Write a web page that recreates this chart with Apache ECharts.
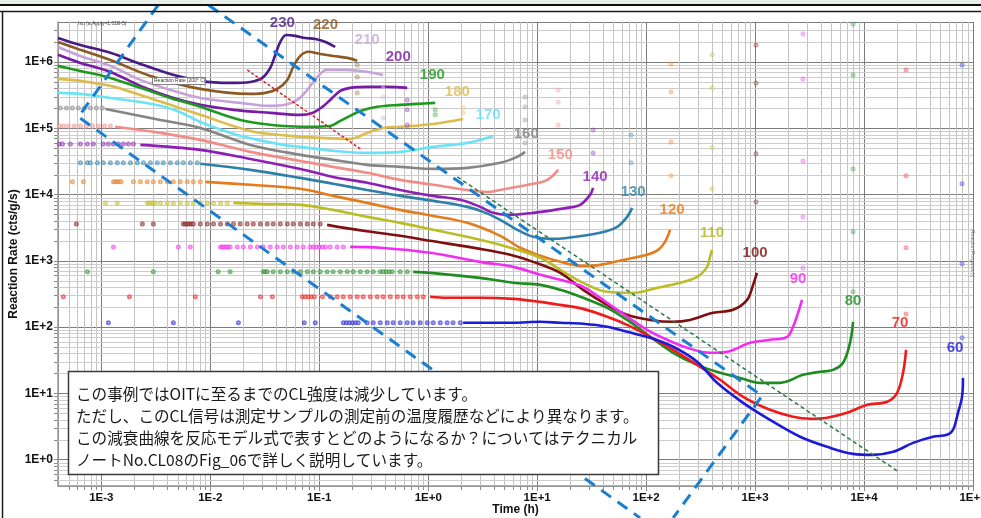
<!DOCTYPE html>
<html>
<head>
<meta charset="utf-8">
<script src="https://cdn.jsdelivr.net/npm/echarts@6/dist/echarts.min.js"></script>
<style>
  html, body { margin: 0; padding: 0; background: #fff; }
  #chart { width: 981px; height: 518px; }
</style>
</head>
<body>
<div id="chart"></div>
<script>
// Isothermal chemiluminescence decay curves, reaction rate (cts/g/s) vs time (h)
const temps = [230, 220, 210, 200, 190, 180, 170, 160, 150, 140, 130, 120, 110, 100, 90, 80, 70, 60];
const colors = ['#4a1a86', '#8b5a22', '#c6a2d8', '#7a1aa8', '#1d9a1d', '#dcbc4c', '#6ae4f4', '#858585', '#f28c86',
                '#8e1fb4', '#2f7fa8', '#e37c1c', '#bcbc26', '#7e1010', '#f22cf0', '#1e8c1e', '#f01a1a', '#1c1cd8'];
const labelColors = ['#4a1a86', '#8b5a22', '#c9a6dc', '#7a1aa8', '#1d9a1d', '#dcbc4c', '#66e0f2', '#808080', '#f28c86',
                     '#8e1fb4', '#2f7fa8', '#e37c1c', '#b5b522', '#7e1010', '#f22cf0', '#1e8c1e', '#f01a1a', '#1c1cd8'];

// dense measured curves [time h, rate]
const line230 = [[4.0e-4,2.30e6],[6.42e-4,1.80e6],[1.21e-3,1.37e6],[2.28e-3,9.33e5],[4.30e-3,6.59e5],[8.09e-3,5.17e5],[1.52e-2,4.82e5],[2.33e-2,4.99e5],[3.00e-2,5.74e5],[3.55e-2,8.12e5],[3.95e-2,1.28e6],[4.39e-2,2.00e6],[4.98e-2,2.55e6],[6.03e-2,2.47e6],[7.44e-2,2.30e6],[9.19e-2,2.22e6],[0.114,2.00e6],[0.140,1.68e6]];
const line220 = [[4.0e-4,2.00e6],[6.42e-4,1.52e6],[1.21e-3,1.07e6],[2.82e-3,6.15e5],[8.09e-3,3.92e5],[2.33e-2,3.29e5],[3.20e-2,3.41e5],[4.12e-2,3.92e5],[5.09e-2,5.35e5],[5.77e-2,8.41e5],[6.70e-2,1.23e6],[7.93e-2,1.42e6],[0.102,1.32e6],[0.134,1.23e6],[0.181,1.15e6],[0.223,1.04e6]];
const line210 = [[4.0e-4,1.68e6],[6.42e-4,1.23e6],[1.21e-3,8.71e5],[2.28e-3,5.35e5],[4.30e-3,3.78e5],[8.09e-3,2.86e5],[1.88e-2,2.41e5],[3.55e-2,2.17e5],[4.88e-2,2.25e5],[6.28e-2,2.67e5],[7.76e-2,3.78e5],[9.59e-2,5.94e5],[0.118,7.57e5],[0.166,7.57e5],[0.238,7.31e5],[0.313,6.82e5],[0.386,6.36e5]];
const line200 = [[4.0e-4,1.28e6],[6.42e-4,9.66e5],[1.21e-3,7.06e5],[2.28e-3,4.35e5],[4.30e-3,2.96e5],[8.09e-3,2.25e5],[1.63e-2,1.89e5],[3.55e-2,1.70e5],[6.70e-2,1.59e5],[8.63e-2,1.70e5],[0.107,2.10e5],[0.126,2.67e5],[0.156,3.65e5],[0.192,4.06e5],[0.275,4.20e5],[0.421,4.20e5],[0.642,4.06e5]];
const line190 = [[4.0e-4,8.71e5],[6.42e-4,7.31e5],[1.21e-3,5.74e5],[2.28e-3,4.06e5],[4.30e-3,2.86e5],[8.09e-3,2.10e5],[1.52e-2,1.48e5],[2.33e-2,1.24e5],[4.68e-2,1.08e5],[8.26e-2,1.05e5],[0.126,1.08e5],[0.156,1.29e5],[0.192,1.53e5],[0.238,1.82e5],[0.340,2.10e5],[0.553,2.25e5],[0.793,2.33e5],[1.16,2.41e5]];
const line180 = [[4.0e-4,5.54e5],[6.42e-4,5.17e5],[1.21e-3,4.35e5],[2.28e-3,3.18e5],[4.30e-3,2.25e5],[8.09e-3,1.59e5],[2.33e-2,9.10e4],[5.42e-2,7.65e4],[0.102,7.14e4],[0.192,6.90e4],[0.275,8.49e4],[0.386,1.01e5],[0.553,1.05e5],[1.11,1.16e5],[2.09,1.38e5]];
const line170 = [[4.0e-4,3.41e5],[6.42e-4,3.29e5],[1.21e-3,2.86e5],[2.82e-3,2.33e5],[4.98e-3,1.82e5],[8.09e-3,1.24e5],[1.77e-2,7.92e4],[4.68e-2,5.60e4],[6.70e-2,5.22e4],[0.134,4.55e4],[0.275,4.24e4],[0.553,4.39e4],[1.11,5.22e4],[2.28,6.00e4],[3.95,7.65e4]];
const line160 = [[1.09e-3,1.95e5],[1.85e-3,1.64e5],[3.48e-3,1.33e5],[8.09e-3,1.01e5],[2.33e-2,5.60e4],[6.70e-2,3.96e4],[0.134,3.33e4],[0.275,2.80e4],[0.553,2.61e4],[1.11,2.43e4],[2.28,2.52e4],[4.58,3.00e4],[6.56,3.69e4],[7.76,4.39e4]];
const line150 = [[1.34e-3,1.05e5],[3.48e-3,8.49e4],[8.09e-3,6.66e4],[2.33e-2,4.39e4],[6.70e-2,3.21e4],[0.134,2.61e4],[0.275,2.12e4],[0.553,1.66e4],[1.11,1.40e4],[2.28,1.17e4],[3.48,1.09e4],[4.58,1.17e4],[9.19,1.45e4],[12.4,1.66e4],[15.6,2.35e4]];
const line140 = [[2.28e-3,5.60e4],[8.09e-3,4.71e4],[2.33e-2,3.44e4],[6.70e-2,2.43e4],[0.134,1.84e4],[0.275,1.50e4],[0.553,1.17e4],[1.11,9.53e3],[1.97,8.30e3],[3.00,6.50e3],[3.95,5.28e3],[5.31,4.92e3],[9.19,5.28e3],[18.8,6.28e3],[24.8,6.97e3],[30.6,9.86e3],[32.6,1.26e4]];
const line130 = [[8.09e-3,2.90e4],[2.33e-2,2.35e4],[6.70e-2,1.78e4],[0.134,1.45e4],[0.275,1.17e4],[0.553,9.53e3],[1.11,8.01e3],[2.28,6.50e3],[3.20,5.47e3],[4.58,4.14e3],[6.56,2.93e3],[9.19,2.30e3],[13.2,2.14e3],[18.8,2.21e3],[37.8,2.64e3],[54.2,3.25e3],[66.9,4.59e3],[74.4,6.28e3]];
const line120 = [[9.00e-3,1.55e4],[2.33e-2,1.40e4],[6.70e-2,1.22e4],[0.134,9.53e3],[0.275,7.47e3],[0.553,5.86e3],[1.11,4.75e3],[2.28,3.73e3],[4.58,2.38e3],[6.98,1.57e3],[10.7,1.19e3],[16.3,9.63e2],[24.8,8.38e2],[37.8,8.67e2],[61.5,1.03e3],[102,1.23e3],[129,1.46e3],[149,1.93e3],[166,2.93e3]];
const line110 = [[1.63e-2,7.47e3],[2.88e-2,7.21e3],[6.70e-2,6.97e3],[0.134,5.86e3],[0.275,4.59e3],[0.553,3.73e3],[1.11,2.93e3],[2.28,2.30e3],[4.58,1.74e3],[10.7,1.11e3],[16.3,7.29e2],[26.4,4.65e2],[43.9,3.40e2],[76.0,3.28e2],[126,3.90e2],[205,4.65e2],[294,5.72e2],[363,8.09e2],[386,1.15e3],[403,1.46e3]];
const line100 = [[0.118,3.48e3],[0.253,2.83e3],[0.553,2.38e3],[1.04,2.00e3],[3.00,1.51e3],[5.65,1.23e3],[9.19,9.63e2],[16.3,6.57e2],[26.4,3.64e2],[43.9,2.16e2],[66.9,1.53e2],[109,1.28e2],[177,1.20e2],[253,1.28e2],[412,1.64e2],[628,1.82e2],[845,2.57e2],[959,4.33e2],[1040,6.57e2]];
const line90 = [[0.192,1.62e3],[0.363,1.57e3],[1.04,1.32e3],[3.00,9.63e2],[6.03,8.09e2],[10.7,6.13e2],[16.3,5.15e2],[26.4,4.04e2],[43.9,2.32e2],[66.9,1.43e2],[102,90.8],[156,64.2],[238,48.7],[386,40.9],[553,42.3],[900,57.9],[1370,64.2],[1970,71.3],[2230,101],[2480,164],[2700,257]];
const line80 = [[0.728,6.80e2],[1.04,6.57e2],[3.00,5.52e2],[6.03,4.65e2],[10.7,4.33e2],[16.3,3.64e2],[26.4,2.76e2],[43.9,1.95e2],[66.9,1.28e2],[109,71.3],[177,40.9],[294,26.9],[477,20.4],[728,17.1],[1110,14.4],[1690,14.4],[2750,19.0],[3950,21.1],[5200,22.6],[6420,28.9],[7440,57.9],[7930,120]];
const line70 = [[1.04,2.86e2],[1.49,2.76e2],[3.00,2.76e2],[6.03,2.66e2],[10.7,2.40e2],[16.3,2.16e2],[26.4,1.88e2],[43.9,1.43e2],[66.9,1.08e2],[109,71.3],[177,45.3],[294,26.9],[477,16.0],[776,8.85],[1370,5.64],[2230,4.43],[3200,4.13],[4580,4.28],[6980,5.08],[10700,6.71],[16300,7.45],[20100,10.2],[22800,20.4],[24300,45.3]];
const line60 = [[2.09,116],[6.03,116],[10.7,120],[16.3,116],[26.4,112],[43.9,101],[66.9,84.7],[109,68.8],[177,50.4],[294,29.9],[448,14.4],[776,7.19],[1370,3.98],[2590,2.21],[4580,1.56],[7930,1.22],[12100,1.18],[18500,1.31],[28200,1.79],[43000,2.21],[57700,2.37],[65600,2.82],[72800,5.08],[79300,8.85],[80900,17.1]];

// sparse early readings: a constant rate sampled at these times (h)
const early160 = { rate: 2.02e5, t: [4.21e-4,4.78e-4,5.42e-4,6.15e-4,6.98e-4,7.93e-4,9.0e-4,1.02e-3] };
const early150 = { rate: 1.08e5, t: [4.1e-4,4.48e-4,4.98e-4,5.65e-4,6.42e-4,7.28e-4,8.27e-4,9.38e-4,1.07e-3,1.21e-3] };
const early140 = { rate: 5.80e4, t: [4.1e-4,4.39e-4,5.20e-4,6.42e-4,7.44e-4,8.45e-4,1.04e-3,1.16e-3,1.29e-3,1.43e-3,1.59e-3,1.77e-3,1.97e-3] };
const early130 = { rate: 3.00e4, t: [6.42e-4,7.44e-4,7.93e-4,9.19e-4,1.04e-3,1.21e-3,1.40e-3,1.59e-3,1.85e-3,2.14e-3,2.43e-3,2.82e-3,3.26e-3,3.70e-3,4.30e-3,4.98e-3,5.65e-3,6.56e-3,7.60e-3] };
const early120 = { rate: 1.55e4, t: [5.42e-4,6.84e-4,1.29e-3,1.34e-3,1.40e-3,1.46e-3,1.52e-3,1.97e-3,2.28e-3,2.64e-3,3.00e-3,3.48e-3,4.03e-3,4.58e-3,5.30e-3,6.15e-3,6.98e-3,8.09e-3] };
const early110 = { rate: 7.47e3, t: [1.09e-3,1.40e-3,2.64e-3,2.76e-3,2.88e-3,3.00e-3,3.13e-3,3.48e-3,4.03e-3,4.58e-3,5.30e-3,6.15e-3,6.98e-3,8.09e-3,9.38e-3,1.07e-2,1.24e-2,1.43e-2] };
const early100 = { rate: 3.60e3, t: [5.90e-4,2.38e-3,3.00e-3,5.65e-3,5.90e-3,6.15e-3,6.42e-3,6.70e-3,6.98e-3,8.09e-3,9.38e-3,1.07e-2,1.24e-2,1.43e-2,1.63e-2,1.88e-2,2.18e-2,2.48e-2,2.88e-2,3.33e-2,3.78e-2,4.39e-2,5.09e-2,5.77e-2,6.70e-2,7.76e-2,8.81e-2,0.102] };
const early90 = { rate: 1.62e3, t: [1.29e-3,5.09e-3,6.56e-3,1.24e-2,1.29e-2,1.34e-2,1.40e-2,1.46e-2,1.52e-2,1.77e-2,2.01e-2,2.33e-2,2.70e-2,3.06e-2,3.55e-2,4.12e-2,4.68e-2,5.42e-2,6.28e-2,7.13e-2,8.26e-2,8.81e-2,9.38e-2,0.100,0.107,0.114,0.126,0.146,0.166] };
const early80 = { rate: 6.80e2, t: [7.44e-4,3.00e-3,1.18e-2,1.52e-2,3.06e-2,3.20e-2,3.33e-2,3.78e-2,4.39e-2,5.09e-2,5.77e-2,6.70e-2,7.76e-2,8.81e-2,0.102,0.118,0.134,0.156,0.181,0.205,0.238,0.275,0.313,0.363,0.386,0.412,0.439,0.467,0.553,0.642] };
const early70 = { rate: 2.86e2, t: [4.48e-4,1.81e-3,7.28e-3,2.88e-2,3.71e-2,6.98e-2,7.44e-2,7.93e-2,8.45e-2,9.0e-2,0.107,0.126,0.146,0.166,0.192,0.223,0.253,0.294,0.340,0.386,0.448,0.520,0.590,0.684,0.793,0.900] };
const early60 = { rate: 1.16e2, t: [1.16e-3,4.58e-3,1.81e-2,7.28e-2,9.19e-2,0.166,0.177,0.188,0.201,0.214,0.228,0.275,0.313,0.363,0.421,0.477,0.553,0.642,0.728,0.845,0.979,1.11,1.29,1.49,1.69,1.97] };

// off-scale readings left at the end time of each run: time (h) and rates
const end220 = { t: 0.223, rates: [9.01e5, 5.94e5, 3.41e5] };
const end210 = { t: 0.386, rates: [4.20e5, 2.96e5, 1.43e5] };
const end200 = { t: 0.642, rates: [2.67e5, 1.89e5, 1.12e5] };
const end190 = { t: 1.16, rates: [1.89e5, 1.59e5] };
const end180 = { t: 2.09, rates: [2.02e5, 1.70e5] };
const end160 = { t: 7.76, rates: [2.96e5, 2.10e5, 1.33e5, 6.00e4] };
const end150 = { t: 15.6, rates: [3.78e5, 2.49e5, 1.12e5, 4.39e4] };
const end140 = { t: 32.6, rates: [9.43e4, 4.24e4] };
const end130 = { t: 72.8, rates: [7.92e4, 3.00e4] };
const end120 = { t: 169, rates: [9.33e5, 3.53e5, 6.21e4, 1.91e4] };
const end110 = { t: 403, rates: [1.28e6, 4.06e5, 5.05e4, 1.22e4] };
const end100 = { t: 1020, rates: [1.80e6, 4.82e5, 4.10e4, 7.73e3] };
const end90 = { t: 2750, rates: [2.64e6, 5.54e5, 3.21e4, 4.59e3, 781] };
const end80 = { t: 7930, rates: [3.74e6, 6.36e5, 2.43e4, 2.73e3, 340] };
const end70 = { t: 24300, rates: [7.57e5, 1.91e4, 1.57e3, 158] };
const end60 = { t: 79300, rates: [9.01e5, 1.45e4, 898, 68.8] };

// temperature tag anchors [time h, rate]
const tagPos = [[4.58e-2,3.87e6],[0.114,3.61e6],[0.275,2.15e6],[0.531,1.19e6],[1.09,6.36e5],[1.85,3.53e5],[3.55,1.59e5],[7.93,8.20e4],[16.3,3.96e4],[34.0,1.84e4],[76.0,1.09e4],[173,5.86e3],[403,2.64e3],[1000,1.32e3],[2480,5.33e2],[7930,2.48e2],[21400,116],[68400,48.7]];

// guide lines
const blueFrameA = [[3.33e-3,7.24e6],[6.15e-4,1.48e5],[88.1,0.132]];
const blueFrameB = [[9.59e-3,7.24e6],[1160,9.17],[177,0.132]];
const greenGuide = [[1.85,1.84e4],[2.01e4,0.678]];
const redGuide = [[2.18e-2,7.57e5],[0.238,4.87e4]];

const noteLines = [
  'この事例ではOITに至るまでのCL強度は減少しています。',
  'ただし、このCL信号は測定サンプルの測定前の温度履歴などにより異なります。',
  'この減衰曲線を反応モデル式で表すとどのようになるか？についてはテクニカル',
  'ノートNo.CL08のFig_06で詳しく説明しています。'
];

const X_MIN = 4e-4, X_MAX = 1e5, Y_MIN = 0.4, Y_MAX = 4e6;

const curves = {230: line230, 220: line220, 210: line210, 200: line200, 190: line190, 180: line180, 170: line170,
  160: line160, 150: line150, 140: line140, 130: line130, 120: line120, 110: line110, 100: line100, 90: line90,
  80: line80, 70: line70, 60: line60};
const early = {160: early160, 150: early150, 140: early140, 130: early130, 120: early120, 110: early110,
  100: early100, 90: early90, 80: early80, 70: early70, 60: early60};
const ends = {220: end220, 210: end210, 200: end200, 190: end190, 180: end180, 160: end160, 150: end150,
  140: end140, 130: end130, 120: end120, 110: end110, 100: end100, 90: end90, 80: end80, 70: end70, 60: end60};

const FONT = '"Liberation Sans", Arial, sans-serif';

function sci(v) {
  const e = Math.round(Math.log10(v));
  return '1E' + (e >= 0 ? '+' : '-') + Math.abs(e);
}

// 2..9 sub-decade positions for the log grid
function minorValues(lo, hi) {
  const out = [];
  for (let e = Math.floor(Math.log10(lo)) - 1; e <= Math.ceil(Math.log10(hi)); e++) {
    for (let m = 2; m <= 9; m++) {
      const v = m * Math.pow(10, e);
      if (v > lo * 1.001 && v < hi * 0.999) out.push(v);
    }
  }
  return out;
}

const series = [];

series.push({
  type: 'custom', silent: true, z: 1, clip: false,
  data: minorValues(X_MIN, X_MAX).map(v => [v, 1]),
  renderItem(params, api) {
    const cs = params.coordSys;
    const x = Math.round(api.coord([api.value(0), 1])[0]) + 0.5;
    const b = cs.y + cs.height;
    return { type: 'group', children: [
      { type: 'line', shape: { x1: x, y1: cs.y, x2: x, y2: b }, style: { stroke: '#c4c4c4', lineWidth: 1 } },
      { type: 'line', shape: { x1: x, y1: b, x2: x, y2: b + 4 }, style: { stroke: '#8c8c8c', lineWidth: 1 } }
    ]};
  }
});
series.push({
  type: 'custom', silent: true, z: 1, clip: false,
  data: minorValues(Y_MIN, Y_MAX).map(v => [1, v]),
  renderItem(params, api) {
    const cs = params.coordSys;
    const y = Math.round(api.coord([1, api.value(1)])[1]) + 0.5;
    return { type: 'group', children: [
      { type: 'line', shape: { x1: cs.x, y1: y, x2: cs.x + cs.width, y2: y }, style: { stroke: '#cdcdcd', lineWidth: 1 } },
      { type: 'line', shape: { x1: cs.x - 4, y1: y, x2: cs.x, y2: y }, style: { stroke: '#8c8c8c', lineWidth: 1 } }
    ]};
  }
});

temps.forEach((T, i) => {
  const c = colors[i];
  if (early[T]) {
    series.push({
      type: 'scatter', silent: true, z: 3,
      data: early[T].t.map(t => [t, early[T].rate]),
      symbol: 'emptyCircle', symbolSize: 3,
      itemStyle: { color: c, borderWidth: 0.8, opacity: 0.6 }
    });
  }
  series.push({
    type: 'line', silent: true, z: 3,
    data: curves[T], smooth: 0.35, showSymbol: false,
    lineStyle: { color: c, width: 2.6 }
  });
  if (ends[T]) {
    series.push({
      type: 'scatter', silent: true, z: 3,
      data: ends[T].rates.map(r => [ends[T].t, r]),
      symbol: 'emptyCircle', symbolSize: 3,
      itemStyle: { color: c, borderWidth: 0.8, opacity: 0.4 }
    });
  }
});

function guide(data, color, width, dash) {
  return { type: 'line', silent: true, z: 4, clip: false, data, showSymbol: false,
    lineStyle: { color, width, type: dash } };
}
series.push(guide(blueFrameA, '#1b7fd1', 3, [12, 8]));
series.push(guide(blueFrameB, '#1b7fd1', 3, [12, 8]));
series.push(guide(greenGuide, '#2a7a46', 1.5, [4, 3]));
series.push(guide(redGuide, '#e02020', 1.5, [3, 2]));

series.push({
  type: 'scatter', silent: true, z: 6,
  symbol: 'circle', symbolSize: 1, itemStyle: { color: 'transparent' },
  data: tagPos.map((p, i) => ({ value: p, name: String(temps[i]), label: { color: labelColors[i] } })),
  label: { show: true, position: 'inside', formatter: '{b}', fontSize: 15, fontWeight: 'bold', fontFamily: FONT }
});

const option = {
  animation: false,
  backgroundColor: '#fff',
  grid: { left: 58, right: 8, top: 22, bottom: 32, containLabel: false, outerBoundsMode: 'none' },
  xAxis: {
    type: 'log', logBase: 10, min: X_MIN, max: X_MAX,
    name: 'Time (h)', nameLocation: 'middle', nameGap: 18, nameMoveOverlap: false,
    nameTextStyle: { fontFamily: FONT, fontSize: 12, fontWeight: 'bold', color: '#111' },
    axisLine: { show: true, lineStyle: { color: '#9a9a9a', width: 1.5 } },
    axisTick: { show: true, inside: false, length: 5, lineStyle: { color: '#8c8c8c' } },
    axisLabel: { margin: 6, showMinLabel: false, formatter: sci, fontFamily: FONT, fontSize: 11.5, fontWeight: 'bold', color: '#111' },
    splitLine: { show: true, lineStyle: { color: '#7c7c7c', width: 1 } }
  },
  yAxis: {
    type: 'log', logBase: 10, min: Y_MIN, max: Y_MAX,
    name: 'Reaction Rate (cts/g/s)', nameLocation: 'middle', nameGap: 38, nameRotate: 90, nameMoveOverlap: false,
    nameTextStyle: { fontFamily: FONT, fontSize: 12, fontWeight: 'bold', color: '#111' },
    axisLine: { show: true, lineStyle: { color: '#9a9a9a', width: 1.5 } },
    axisTick: { show: true, inside: false, length: 4, lineStyle: { color: '#8c8c8c' } },
    axisLabel: { margin: 5, showMinLabel: false, showMaxLabel: false, formatter: sci, fontFamily: FONT, fontSize: 12, fontWeight: 'bold', color: '#111' },
    splitLine: { show: true, lineStyle: { color: '#7c7c7c', width: 1 } }
  },
  graphic: [
    { type: 'rect', z: 90, shape: { x: 0, y: 0, width: 981, height: 5 }, style: { fill: '#e8efe8' } },
    { type: 'line', z: 91, shape: { x1: 0, y1: 5, x2: 981, y2: 5 }, style: { stroke: '#111', lineWidth: 2 } },
    { type: 'line', z: 91, shape: { x1: 0, y1: 11.5, x2: 981, y2: 11.5 }, style: { stroke: '#1a1a1a', lineWidth: 1.5 } },
    { type: 'line', z: 91, shape: { x1: 2.5, y1: 11.5, x2: 2.5, y2: 518 }, style: { stroke: '#1a1a1a', lineWidth: 1.5 } },
    { type: 'text', z: 20, x: 78, y: 21, style: { text: 'Iso (a,Apply=1.01E-5)', fontSize: 5, fontFamily: FONT, fill: '#444' } },
    { type: 'rect', z: 20, shape: { x: 152.5, y: 77.5, width: 53, height: 7 }, style: { fill: '#fff', stroke: '#666', lineWidth: 0.8 } },
    { type: 'text', z: 21, x: 154, y: 78.5, style: { text: 'Reaction Rate [200° C]', fontSize: 5, fontFamily: FONT, fill: '#333' } },
    { type: 'text', z: 20, x: 975, y: 230, rotation: -Math.PI / 2, style: { text: 'Reaction Progress (-)', fontSize: 5, fontFamily: FONT, fill: '#777' } },
    { type: 'rect', z: 100, shape: { x: 68.5, y: 371.5, width: 590, height: 103 }, style: { fill: '#fff', stroke: '#3a3a3a', lineWidth: 1.5 } },
    { type: 'text', z: 101, x: 76, y: 383, style: { text: noteLines.join('\n'), fontSize: 15.6, fontFamily: '"Noto Sans CJK JP", sans-serif', fill: '#1a1a1a', lineHeight: 22, verticalAlign: 'top' } }
  ],
  series
};

const chart = echarts.init(document.getElementById('chart'), null, { renderer: 'canvas' });
chart.setOption(option);
</script>
</body>
</html>
